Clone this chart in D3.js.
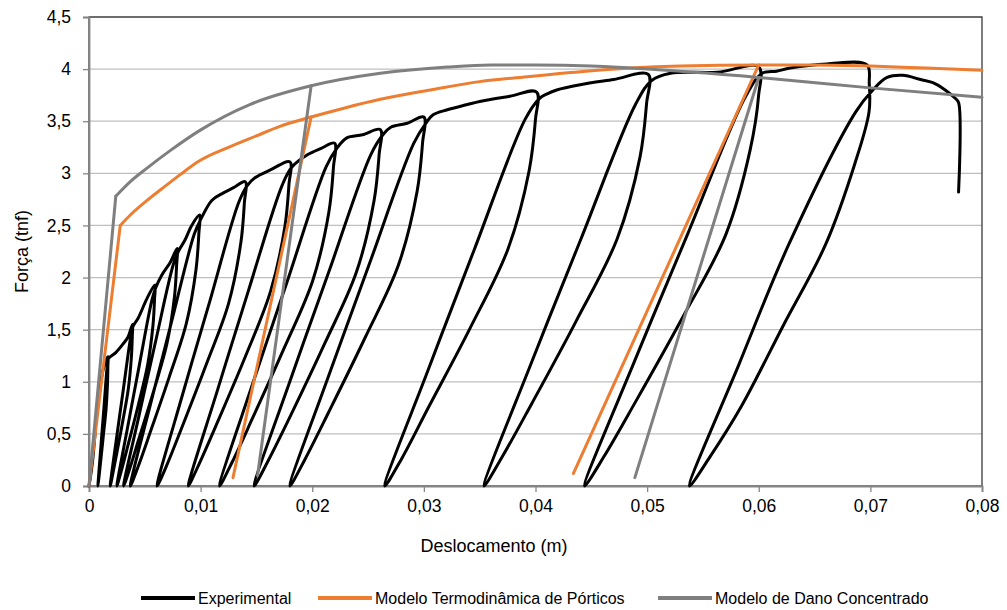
<!DOCTYPE html>
<html>
<head>
<meta charset="utf-8">
<script src="https://cdn.jsdelivr.net/npm/d3@7"></script>
<style>
  body { margin: 0; background: #fff; }
  text { font-family: "Liberation Sans", Arial, sans-serif; fill: #000; }
</style>
</head>
<body>
<svg id="chart" width="1007" height="610"></svg>
<script>
// Axis ticks
const xTicks = [0, 0.01, 0.02, 0.03, 0.04, 0.05, 0.06, 0.07, 0.08];
const yTicks = [0, 0.5, 1, 1.5, 2, 2.5, 3, 3.5, 4, 4.5];

// Experimental curve: [deslocamento (m), força (tnf)], one cycle per line
const experimental = [
  [0,0],[0.0003,0.22],[0.0008,0.8],[0.00125,1.11],[0.0015,1.2],[0.0017,1.24],
  [0.00169,1.15],[0.00166,0.99],[0.00153,0.74],[0.0013,0.5],[0.00106,0.25],[0.0009,0.09],[0.0008,0],
  [0.00106,0.37],[0.00133,0.74],[0.00163,1.15],[0.00172,1.22],
  [0.0024,1.28],[0.0031,1.37],[0.0035,1.43],[0.0039,1.55],
  [0.00388,1.44],[0.0038,1.24],[0.00352,0.93],[0.00302,0.62],[0.00248,0.31],[0.00212,0.11],[0.0019,0],
  [0.00248,0.47],[0.00308,0.93],[0.00375,1.44],[0.00394,1.53],
  [0.0044,1.61],[0.0052,1.8],[0.0059,1.93],
  [0.00587,1.79],[0.00573,1.54],[0.00525,1.16],[0.0044,0.77],[0.00349,0.39],[0.00287,0.135],[0.0025,0],
  [0.00349,0.58],[0.00451,1.16],[0.00565,1.79],[0.00597,1.9],
  [0.0065,2.02],[0.0073,2.15],[0.0079,2.28],
  [0.00785,2.12],[0.00766,1.82],[0.00699,1.37],[0.00579,0.91],[0.00449,0.46],[0.00363,0.16],[0.0031,0],
  [0.00449,0.68],[0.00593,1.37],[0.00754,2.12],[0.008,2.25],
  [0.0086,2.36],[0.0092,2.5],[0.0099,2.6],
  [0.00984,2.42],[0.00959,2.08],[0.00872,1.56],[0.00717,1.04],[0.0055,0.52],[0.00438,0.18],[0.0037,0],
  [0.0055,0.78],[0.00736,1.56],[0.00944,2.42],[0.01002,2.56],
  [0.011,2.74],[0.012,2.81],[0.0129,2.86],[0.014,2.92],
  [0.01392,2.72],[0.01361,2.34],[0.0125,1.75],[0.01052,1.17],[0.00839,0.58],[0.00697,0.2],[0.0061,0],
  [0.00839,0.88],[0.01076,1.75],[0.01341,2.72],[0.01416,2.88],
  [0.0149,2.96],[0.0162,3.03],[0.018,3.11],
  [0.01791,2.89],[0.01755,2.49],[0.01627,1.87],[0.014,1.24],[0.01154,0.62],[0.0099,0.22],[0.0089,0],
  [0.01154,0.93],[0.01427,1.87],[0.01732,2.89],[0.01818,3.06],
  [0.0196,3.18],[0.0208,3.24],[0.022,3.29],
  [0.0219,3.06],[0.02149,2.63],[0.02004,1.97],[0.01747,1.32],[0.01469,0.66],[0.01283,0.23],[0.0117,0],
  [0.01469,0.99],[0.01778,1.97],[0.02123,3.06],[0.0222,3.24],
  [0.0231,3.34],[0.0245,3.37],[0.0261,3.42],
  [0.02599,3.18],[0.02554,2.74],[0.02395,2.05],[0.02113,1.37],[0.01808,0.68],[0.01604,0.24],[0.0148,0],
  [0.01808,1.03],[0.02147,2.05],[0.02525,3.18],[0.02633,3.37],
  [0.027,3.44],[0.0285,3.48],[0.03,3.54],
  [0.02988,3.29],[0.0294,2.83],[0.02772,2.12],[0.02472,1.42],[0.02148,0.71],[0.01932,0.25],[0.018,0],
  [0.02148,1.06],[0.02508,2.12],[0.0291,3.29],[0.03024,3.49],
  [0.0308,3.56],[0.0321,3.61],[0.0339,3.66],[0.035,3.69],[0.0377,3.74],[0.0401,3.78],
  [0.04,3.52],[0.03942,3.02],[0.03752,2.27],[0.03412,1.51],[0.03044,0.76],[0.028,0.26],[0.0265,0],
  [0.03044,1.13],[0.03452,2.27],[0.03908,3.52],[0.04037,3.72],
  [0.041,3.76],[0.0419,3.8],[0.044,3.85],[0.047,3.9],[0.0501,3.95],
  [0.04995,3.67],[0.04937,3.16],[0.04731,2.37],[0.04363,1.58],[0.03966,0.79],[0.03702,0.28],[0.0354,0],
  [0.03966,1.19],[0.04407,2.37],[0.049,3.67],[0.0504,3.89],
  [0.0521,3.96],[0.0563,3.97],[0.06,4.02],
  [0.05998,3.74],[0.05922,3.22],[0.05704,2.41],[0.05314,1.61],[0.04892,0.8],[0.04612,0.28],[0.0444,0],
  [0.04892,1.21],[0.0536,2.41],[0.05883,3.74],[0.06031,3.96],
  [0.0616,3.98],[0.0628,4.01],[0.0661,4.05],[0.0697,4.04],[0.0699,3.86],
  [0.06988,3.59],[0.0686,3.09],[0.066,2.32],[0.0622,1.54],[0.05847,0.77],[0.05557,0.27],[0.0538,0],
  [0.0582,1.16],[0.0627,2.32],[0.06869,3.59],[0.07022,3.8],
  [0.0715,3.92],[0.0729,3.94],[0.0745,3.9],[0.0756,3.87],[0.0767,3.8],[0.0776,3.72],[0.0779,3.68],[0.0779,2.82]
];

// Modelo Termodinâmica de Pórticos: elastic branch, hardening envelope, unloading branches
const porticosElastic = [[0,0],[0.0028,2.5]];
const porticosEnvelope = [
  [0.0028,2.5],[0.0037,2.6],[0.0052,2.74],[0.0065,2.85],[0.0082,2.99],[0.0099,3.12],
  [0.0125,3.25],[0.015,3.36],[0.0171,3.45],[0.0199,3.54],[0.023,3.63],[0.0261,3.71],
  [0.0306,3.8],[0.035,3.88],[0.0395,3.93],[0.044,3.975],[0.0485,4.01],[0.053,4.03],
  [0.06,4.04],[0.065,4.04],[0.07,4.03],[0.075,4.01],[0.08,3.99]
];
const porticosUnload = [
  [[0.0199,3.54],[0.0129,0.08]],
  [[0.06,4.04],[0.0434,0.12]]
];

// Modelo de Dano Concentrado: elastic branch, envelope, unloading branches
const danoElastic = [[0,0],[0.0024,2.78]];
const danoEnvelope = [
  [0.0024,2.78],[0.0037,2.92],[0.0052,3.05],[0.0073,3.22],[0.0099,3.41],[0.0144,3.66],
  [0.0199,3.84],[0.0261,3.96],[0.0321,4.02],[0.036,4.04],[0.04,4.04],[0.045,4.03],
  [0.0485,4.01],[0.06,3.92],[0.07,3.82],[0.08,3.73]
];
const danoUnload = [
  [[0.0199,3.84],[0.0151,0.1]],
  [[0.06,3.92],[0.0489,0.08]]
];

const seriesNames = ["Experimental", "Modelo Termodinâmica de Pórticos", "Modelo de Dano Concentrado"];
const seriesColors = ["#000000", "#ED7D31", "#7F7F7F"];

const fmt = d => String(d).replace(".", ",");

const svg = d3.select("#chart");
const plotLeft = 89, plotRight = 982, plotTop = 17, plotBottom = 486;

const x = d3.scaleLinear().domain([0, 0.08]).range([plotLeft, plotRight]);
const y = d3.scaleLinear().domain([0, 4.5]).range([plotBottom, plotTop]);

// Horizontal gridlines
svg.append("g")
  .selectAll("line")
  .data(yTicks.filter(v => v > 0))
  .join("line")
  .attr("x1", plotLeft).attr("x2", plotRight)
  .attr("y1", d => y(d)).attr("y2", d => y(d))
  .attr("stroke", "#bfbfbf").attr("stroke-width", 1.3);

// Plot-area frame
svg.append("rect")
  .attr("x", plotLeft).attr("y", plotTop)
  .attr("width", plotRight - plotLeft).attr("height", plotBottom - plotTop)
  .attr("fill", "none").attr("stroke", "#3a3a3a").attr("stroke-width", 1.3);

// Axes
const xAxis = svg.append("g")
  .attr("transform", `translate(0,${plotBottom})`)
  .call(d3.axisBottom(x).tickValues(xTicks).tickFormat(fmt).tickSize(6).tickPadding(8));
const yAxis = svg.append("g")
  .attr("transform", `translate(${plotLeft},0)`)
  .call(d3.axisLeft(y).tickValues(yTicks).tickFormat(fmt).tickSize(6).tickPadding(12));

[xAxis, yAxis].forEach(g => {
  g.select(".domain").attr("stroke", "#868686").attr("stroke-width", 1.8);
  g.selectAll(".tick line").attr("stroke", "#868686").attr("stroke-width", 1.3);
  g.selectAll(".tick text")
    .attr("font-size", 17.5)
    .attr("font-family", "'Liberation Sans', Arial, sans-serif")
    .attr("fill", "#000");
});

// Axis titles
svg.append("text")
  .attr("x", 494).attr("y", 552)
  .attr("text-anchor", "middle").attr("font-size", 18)
  .text("Deslocamento (m)");
svg.append("text")
  .attr("transform", `translate(28,${(plotTop + plotBottom) / 2}) rotate(-90)`)
  .attr("text-anchor", "middle").attr("font-size", 18)
  .text("Força (tnf)");

// Series
const plot = svg.append("g");
const smooth = d3.line().x(d => x(d[0])).y(d => y(d[1])).curve(d3.curveCatmullRom.alpha(0.5));
const mono = d3.line().x(d => x(d[0])).y(d => y(d[1])).curve(d3.curveMonotoneX);
const straight = d3.line().x(d => x(d[0])).y(d => y(d[1]));

plot.append("path")
  .attr("d", smooth(experimental))
  .attr("fill", "none").attr("stroke", seriesColors[0])
  .attr("stroke-width", 3).attr("stroke-linejoin", "round").attr("stroke-linecap", "round");

function drawModel(elastic, envelope, unloads, color) {
  const g = plot.append("g")
    .attr("fill", "none").attr("stroke", color)
    .attr("stroke-width", 3).attr("stroke-linejoin", "round").attr("stroke-linecap", "round");
  g.append("path").attr("d", straight(elastic));
  g.append("path").attr("d", mono(envelope));
  unloads.forEach(seg => g.append("path").attr("d", straight(seg)));
}
drawModel(porticosElastic, porticosEnvelope, porticosUnload, seriesColors[1]);
drawModel(danoElastic, danoEnvelope, danoUnload, seriesColors[2]);

// Legend
const legendX = [141, 318, 658];
const legend = svg.append("g");
seriesNames.forEach((name, i) => {
  const lg = legend.append("g").attr("transform", `translate(${legendX[i]},598)`);
  lg.append("line").attr("x1", 0).attr("x2", 54).attr("y1", 0).attr("y2", 0)
    .attr("stroke", seriesColors[i]).attr("stroke-width", 4);
  lg.append("text").attr("x", 57).attr("y", 5.5).attr("font-size", 16).text(name);
});
</script>
</body>
</html>
